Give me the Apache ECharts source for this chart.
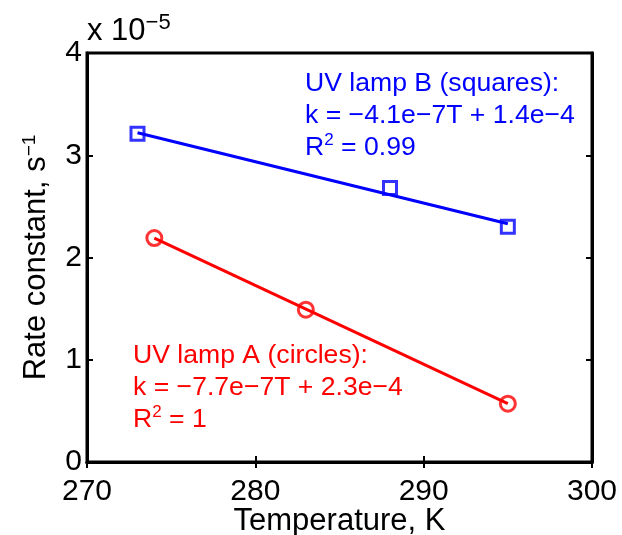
<!DOCTYPE html>
<html lang="en">
<head>
    <meta charset="UTF-8">
    <title>Rate constant vs temperature</title>
    <style>
        html, body {
            margin: 0;
            padding: 0;
            background: #fff;
        }
        #chart {
            width: 622px;
            height: 535px;
        }
    </style>
</head>
<body>
    <div id="chart"></div>
    <script src="https://cdn.jsdelivr.net/npm/echarts@6/dist/echarts.min.js"></script>
    <script type="text/javascript">
        // values in units of 1e-5 s^-1
        var tempB = [273, 288, 295];
        var rateB = [3.21, 2.68, 2.30];
        var tempA = [274, 283, 295];
        var rateA = [2.19, 1.49, 0.57];
        // fitted lines, end points
        var fitTempB = [273, 295];
        var fitRateB = [3.22, 2.33];
        var fitTempA = [274, 295];
        var fitRateA = [2.19, 0.57];

        var xTicks = [270, 280, 290, 300];
        var yTicks = [0, 1, 2, 3, 4];

        function pairs(xs, ys) {
            return xs.map(function (x, i) { return [x, ys[i]]; });
        }

        var font = 'Liberation Sans, Arial, sans-serif';
        var blue = '#0000ff';
        var red = '#ff0000';

        var sup = { fontSize: 19, fontFamily: font, verticalAlign: 'top', padding: [0, 0, 14, 0] };

        var chart = echarts.init(document.getElementById('chart'));

        var option = {
            animation: false,
            backgroundColor: '#fff',
            grid: {
                left: 87,
                right: 30,
                top: 53,
                bottom: 73,
                containLabel: false,
                outerBoundsMode: 'none',
                show: true,
                borderColor: '#000',
                borderWidth: 3
            },
            xAxis: [{
                type: 'value',
                min: xTicks[0],
                max: xTicks[xTicks.length - 1],
                interval: 10,
                name: 'Temperature, K',
                nameLocation: 'middle',
                nameGap: 44,
                nameMoveOverlap: false,
                nameTextStyle: { fontSize: 31, fontFamily: font, color: '#000' },
                axisLine: { show: true, lineStyle: { color: '#000', width: 3 } },
                axisTick: { inside: true, length: 6, lineStyle: { color: '#000', width: 2 } },
                axisLabel: { fontSize: 30, fontFamily: font, color: '#000', margin: 15 },
                splitLine: { show: false }
            }, {
                type: 'value',
                position: 'top',
                min: xTicks[0],
                max: xTicks[xTicks.length - 1],
                interval: 10,
                axisLine: { show: true, lineStyle: { color: '#000', width: 3 } },
                axisTick: { inside: true, length: 6, lineStyle: { color: '#000', width: 2 } },
                axisLabel: { show: false },
                splitLine: { show: false }
            }],
            yAxis: [{
                type: 'value',
                min: yTicks[0],
                max: yTicks[yTicks.length - 1],
                interval: 1,
                name: 'Rate constant, s{sup|−1}',
                nameLocation: 'middle',
                nameGap: 34,
                nameMoveOverlap: false,
                nameTextStyle: {
                    fontSize: 31, fontFamily: font, color: '#000',
                    rich: { sup: sup }
                },
                axisLine: { show: true, lineStyle: { color: '#000', width: 3 } },
                axisTick: { inside: true, length: 6, lineStyle: { color: '#000', width: 2 } },
                axisLabel: { fontSize: 30, fontFamily: font, color: '#000', margin: 5 },
                splitLine: { show: false }
            }, {
                type: 'value',
                position: 'right',
                min: yTicks[0],
                max: yTicks[yTicks.length - 1],
                interval: 1,
                axisLine: { show: true, lineStyle: { color: '#000', width: 3 } },
                axisTick: { inside: true, length: 6, lineStyle: { color: '#000', width: 2 } },
                axisLabel: { show: false },
                splitLine: { show: false }
            }],
            graphic: [{
                type: 'text',
                left: 87,
                top: 12,
                style: {
                    text: 'x 10{sup|−5}',
                    fontSize: 31,
                    fontFamily: font,
                    fill: '#000',
                    rich: { sup: { fontSize: 22, fontFamily: font, verticalAlign: 'top', padding: [0, 0, 16, 0] } }
                }
            }, {
                type: 'text',
                left: 305,
                top: 68,
                style: {
                    text: 'UV lamp B (squares):\nk = −4.1e−7T + 1.4e−4\nR{sup|2} = 0.99',
                    fontSize: 26.6,
                    lineHeight: 32,
                    fontFamily: font,
                    fill: blue,
                    rich: { sup: { fontSize: 17, fontFamily: font, fill: blue, lineHeight: 32, verticalAlign: 'top', padding: [0, 0, 10, 0] } }
                }
            }, {
                type: 'text',
                left: 133,
                top: 340,
                style: {
                    text: 'UV lamp A (circles):\nk = −7.7e−7T + 2.3e−4\nR{sup|2} = 1',
                    fontSize: 26.6,
                    lineHeight: 32,
                    fontFamily: font,
                    fill: red,
                    rich: { sup: { fontSize: 17, fontFamily: font, fill: red, lineHeight: 32, verticalAlign: 'top', padding: [0, 0, 10, 0] } }
                }
            }],
            series: [{
                name: 'Fit B',
                type: 'line',
                data: pairs(fitTempB, fitRateB),
                symbol: 'none',
                lineStyle: { color: blue, width: 3 },
                z: 2
            }, {
                name: 'Fit A',
                type: 'line',
                data: pairs(fitTempA, fitRateA),
                symbol: 'none',
                lineStyle: { color: red, width: 3 },
                z: 2
            }, {
                name: 'UV lamp B',
                type: 'scatter',
                data: pairs(tempB, rateB),
                symbol: 'rect',
                symbolSize: 13,
                itemStyle: { color: 'rgba(0,0,0,0)', borderColor: blue, borderWidth: 3 },
                z: 3
            }, {
                name: 'UV lamp A',
                type: 'scatter',
                data: pairs(tempA, rateA),
                symbol: 'circle',
                symbolSize: 15,
                itemStyle: { color: 'rgba(0,0,0,0)', borderColor: red, borderWidth: 3 },
                z: 3
            }]
        };

        chart.setOption(option);
    </script>
</body>
</html>
